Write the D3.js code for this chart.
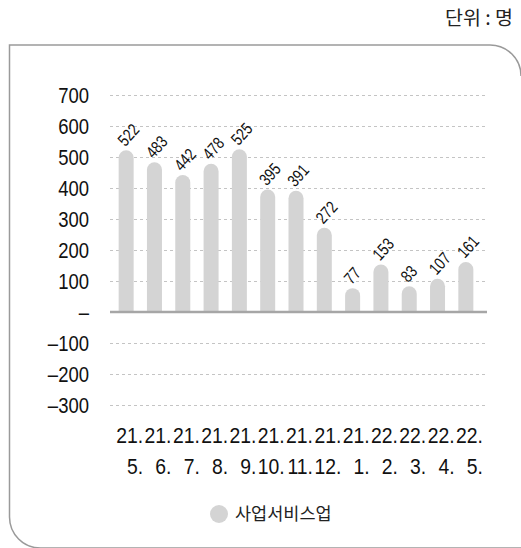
<!DOCTYPE html>
<html>
<head>
<meta charset="utf-8">
<script src="https://cdn.jsdelivr.net/npm/d3@7"></script>
<style>
  html, body { margin: 0; padding: 0; background: #fff; }
  svg { display: block; }
  .num { font-family: "Liberation Sans", Arial, sans-serif; }
  .kr { font-family: "Noto Sans CJK KR", "Noto Sans", sans-serif; }
</style>
</head>
<body>
<script>
var width = 521, height = 548;

// data
var categories = ["21. 5.", "21. 6.", "21. 7.", "21. 8.", "21. 9.", "21. 10.", "21. 11.",
                  "21. 12.", "21. 1.", "22. 2.", "22. 3.", "22. 4.", "22. 5."];
var values = [522, 483, 442, 478, 525, 395, 391, 272, 77, 153, 83, 107, 161];
var yTicks = [700, 600, 500, 400, 300, 200, 100, 0, -100, -200, -300];
var seriesName = "사업서비스업";
var unitLabel = "단위 : 명";

var svg = d3.select("body").append("svg")
    .attr("width", width)
    .attr("height", height);

// frame with rounded top-right and bottom-left corners
svg.append("path")
    .attr("d", "M521,76 A31,31 0 0 0 490,45 H9.5 V517 A31,31 0 0 0 40.5,548 H530")
    .attr("fill", "none")
    .attr("stroke", "#9a9a9a")
    .attr("stroke-width", 1.5);

svg.append("text")
    .attr("class", "kr")
    .attr("x", 513)
    .attr("y", 25)
    .attr("text-anchor", "end")
    .attr("font-size", 19.5)
    .attr("fill", "#222")
    .text(unitLabel);

// set the ranges
var x = d3.scaleBand()
    .domain(categories)
    .range([112, 480])
    .paddingInner(0.47)
    .paddingOuter(0.235);

var y = d3.scaleLinear()
    .domain([-300, 700])
    .range([405, 95]);

var gridX0 = 110, gridX1 = 487;

// dashed grid lines
svg.append("g")
  .selectAll("line")
  .data(yTicks.filter(function(d) { return d !== 0; }))
  .enter().append("line")
    .attr("x1", gridX0)
    .attr("x2", gridX1)
    .attr("y1", function(d) { return Math.round(y(d)) + 0.5; })
    .attr("y2", function(d) { return Math.round(y(d)) + 0.5; })
    .attr("stroke", "#c4c4c4")
    .attr("stroke-width", 1)
    .attr("stroke-dasharray", "3,3");

// y axis labels
var yAxis = d3.axisLeft(y)
    .tickValues(yTicks)
    .tickSize(0)
    .tickPadding(0)
    .tickFormat(function(d) { return d === 0 ? "–" : (d < 0 ? "–" + Math.abs(d) : d); });

svg.append("g")
    .attr("transform", "translate(89,1)")
    .call(yAxis)
    .call(function(g) { g.select(".domain").remove(); })
    .selectAll("text")
    .attr("class", "num")
    .attr("font-size", 21.5)
    .attr("fill", "#111")
    .attr("transform", "scale(0.86,1)");

// bars with round tops
function barPath(d, i) {
  var x0 = x(categories[i]), w = x.bandwidth(), r = w / 2;
  var yb = y(0), yt = y(d);
  return "M" + x0 + "," + yb +
         " V" + (yt + r) +
         " A" + r + "," + r + " 0 0 1 " + (x0 + w) + "," + (yt + r) +
         " V" + yb + " Z";
}

svg.append("g")
  .selectAll("path")
  .data(values)
  .enter().append("path")
    .attr("d", barPath)
    .attr("fill", "#d4d4d4");

// zero line
svg.append("line")
    .attr("x1", gridX0)
    .attr("x2", gridX1)
    .attr("y1", y(0))
    .attr("y2", y(0))
    .attr("stroke", "#a6a6a6")
    .attr("stroke-width", 2.5);

// value labels
svg.append("g")
  .selectAll("text")
  .data(values)
  .enter().append("text")
    .attr("class", "num")
    .attr("font-size", 17)
    .attr("fill", "#111")
    .attr("transform", function(d, i) {
      var cx = x(categories[i]) + x.bandwidth() / 2;
      return "translate(" + (cx - 1) + "," + (y(d) - 3) + ") rotate(-48) scale(0.8,1)";
    })
    .text(function(d) { return d; });

// x axis labels, two lines
var xl = svg.append("g")
  .selectAll("g")
  .data(categories)
  .enter().append("g")
    .attr("transform", function(d) {
      return "translate(" + (x(d) + x.bandwidth() / 2 + 17) + ",0)";
    })
  .append("text")
    .attr("class", "num")
    .attr("font-size", 21.5)
    .attr("fill", "#111")
    .attr("text-anchor", "end")
    .attr("transform", "scale(0.9,1)");

xl.append("tspan")
    .attr("x", 0)
    .attr("y", 443)
    .text(function(d) { return d.split(" ")[0]; });
xl.append("tspan")
    .attr("x", 0)
    .attr("y", 474)
    .text(function(d) { return d.split(" ")[1]; });

// legend
svg.append("circle")
    .attr("cx", 219)
    .attr("cy", 514)
    .attr("r", 9)
    .attr("fill", "#d4d4d4");

svg.append("text")
    .attr("class", "kr")
    .attr("x", 235)
    .attr("y", 520)
    .attr("font-size", 17.5)
    .attr("fill", "#222")
    .text(seriesName);
</script>
</body>
</html>
